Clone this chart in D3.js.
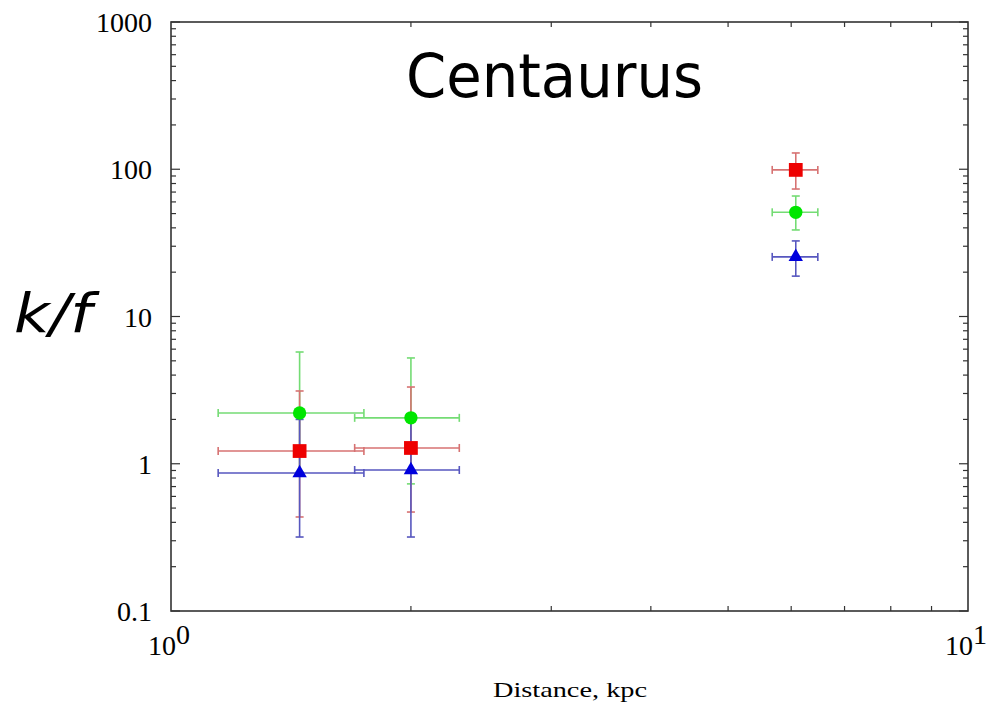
<!DOCTYPE html>
<html lang="en">
<head>
<meta charset="UTF-8">
<script src="https://d3js.org/d3.v7.min.js"></script>
<title>Centaurus</title>
<style>
    body { margin: 0; background: #fff; }
    svg { display: block; }
</style>
</head>
<body>
<div id="container"></div>
<script>
    const width = 993, height = 705
    const margin = {left: 171, right: 25, top: 22, bottom: 94}

    // distance (kpc) and horizontal error range, same for every series
    const distance = [1.45, 2.0, 6.08]
    const distLo = [1.146, 1.70, 5.68]
    const distHi = [1.746, 2.30, 6.48]

    // k/f values with lower / upper error
    const redVal = [1.22, 1.28, 99]
    const redLo = [0.435, 0.47, 73.4]
    const redHi = [3.12, 3.32, 129]

    const greenVal = [2.21, 2.05, 51]
    const greenLo = [0.88, 0.73, 38.7]
    const greenHi = [5.74, 5.23, 65.8]

    const blueVal = [0.865, 0.907, 25.4]
    const blueLo = [0.318, 0.318, 18.8]
    const blueHi = [2.0, 2.0, 32.6]

    const yTicks = [0.1, 1, 10, 100, 1000]
    const yTickLabels = ["0.1", "1", "10", "100", "1000"]
    const xTicks = [1, 10]
    const xTickExp = ["0", "1"]

    const series = [
        {name: "green", val: greenVal, lo: greenLo, hi: greenHi, bar: "#5cd65c", fill: "#00e600", shape: d3.symbolCircle, size: 140},
        {name: "red", val: redVal, lo: redLo, hi: redHi, bar: "#d05a5a", fill: "#ee0000", shape: d3.symbolSquare, size: 190},
        {name: "blue", val: blueVal, lo: blueLo, hi: blueHi, bar: "#3a3ab4", fill: "#0000dd", shape: d3.symbolTriangle, size: 90}
    ]

    const x = d3.scaleLog().domain([1, 10]).range([margin.left, width - margin.right])
    const y = d3.scaleLog().domain([0.1, 1000]).range([height - margin.bottom, margin.top])

    const svg = d3.select("#container").append("svg")
        .attr("width", width)
        .attr("height", height)

    // minor / major ticks on all four sides, pointing inward
    const minorX = []
    for (let i = 2; i <= 9; i++) minorX.push(i)
    const minorY = []
    for (let e = -1; e < 3; e++) for (let i = 2; i <= 9; i++) minorY.push(i * Math.pow(10, e))

    const axisColor = "#333"
    const ticks = svg.append("g").attr("stroke", axisColor).attr("stroke-width", 1.2)
    const x0 = x.range()[0], x1 = x.range()[1], y0 = y.range()[0], y1 = y.range()[1]
    minorX.forEach(v => {
        ticks.append("line").attr("x1", x(v)).attr("x2", x(v)).attr("y1", y0).attr("y2", y0 - 5)
        ticks.append("line").attr("x1", x(v)).attr("x2", x(v)).attr("y1", y1).attr("y2", y1 + 5)
    })
    minorY.forEach(v => {
        ticks.append("line").attr("y1", y(v)).attr("y2", y(v)).attr("x1", x0).attr("x2", x0 + 5)
        ticks.append("line").attr("y1", y(v)).attr("y2", y(v)).attr("x1", x1).attr("x2", x1 - 5)
    })
    yTicks.forEach(v => {
        ticks.append("line").attr("y1", y(v)).attr("y2", y(v)).attr("x1", x0).attr("x2", x0 + 9)
        ticks.append("line").attr("y1", y(v)).attr("y2", y(v)).attr("x1", x1).attr("x2", x1 - 9)
    })

    svg.append("rect")
        .attr("x", x0).attr("y", y1)
        .attr("width", x1 - x0).attr("height", y0 - y1)
        .attr("fill", "none").attr("stroke", axisColor).attr("stroke-width", 1.6)

    // tick labels
    svg.append("g").selectAll("text")
        .data(yTicks)
        .join("text")
        .attr("x", 152)
        .attr("y", d => y(d) + 10)
        .attr("text-anchor", "end")
        .attr("font-family", "Liberation Serif, serif")
        .attr("font-size", 28)
        .text((d, i) => yTickLabels[i])

    xTicks.forEach((v, i) => {
        const t = svg.append("text")
            .attr("x", x(v) - 2)
            .attr("y", 655)
            .attr("text-anchor", "middle")
            .attr("font-family", "Liberation Serif, serif")
            .attr("font-size", 28)
        t.append("tspan").text("10")
        t.append("tspan").attr("dy", -11).text(xTickExp[i])
    })

    svg.append("text")
        .attr("x", 570).attr("y", 697)
        .attr("text-anchor", "middle")
        .attr("font-family", "Liberation Serif, serif")
        .attr("font-size", 21)
        .attr("textLength", 154)
        .attr("lengthAdjust", "spacingAndGlyphs")
        .text("Distance, kpc")

    svg.append("text")
        .attr("x", 14).attr("y", 332)
        .attr("font-family", "DejaVu Sans, sans-serif")
        .attr("font-style", "italic")
        .attr("font-size", 53)
        .attr("textLength", 78)
        .attr("lengthAdjust", "spacingAndGlyphs")
        .text("k/f")

    svg.append("text")
        .attr("x", 406).attr("y", 97)
        .attr("font-family", "DejaVu Sans, sans-serif")
        .attr("font-size", 60)
        .attr("textLength", 297)
        .attr("lengthAdjust", "spacingAndGlyphs")
        .text("Centaurus")

    // error bars
    const cap = 4
    const bars = svg.append("g").attr("stroke-width", 1.6).attr("opacity", 0.85)
    series.forEach(s => {
        const g = bars.append("g").attr("stroke", s.bar)
        distance.forEach((d, i) => {
            const cx = x(d), cy = y(s.val[i])
            g.append("line").attr("x1", x(distLo[i])).attr("x2", x(distHi[i])).attr("y1", cy).attr("y2", cy)
            g.append("line").attr("x1", x(distLo[i])).attr("x2", x(distLo[i])).attr("y1", cy - cap).attr("y2", cy + cap)
            g.append("line").attr("x1", x(distHi[i])).attr("x2", x(distHi[i])).attr("y1", cy - cap).attr("y2", cy + cap)
            g.append("line").attr("x1", cx).attr("x2", cx).attr("y1", y(s.lo[i])).attr("y2", y(s.hi[i]))
            g.append("line").attr("x1", cx - cap).attr("x2", cx + cap).attr("y1", y(s.lo[i])).attr("y2", y(s.lo[i]))
            g.append("line").attr("x1", cx - cap).attr("x2", cx + cap).attr("y1", y(s.hi[i])).attr("y2", y(s.hi[i]))
        })
    })

    // markers
    series.forEach(s => {
        svg.append("g").selectAll("path")
            .data(distance)
            .join("path")
            .attr("transform", (d, i) => `translate(${x(d)},${y(s.val[i])})`)
            .attr("d", d3.symbol().type(s.shape).size(s.size))
            .attr("fill", s.fill)
    })
</script>
</body>
</html>
